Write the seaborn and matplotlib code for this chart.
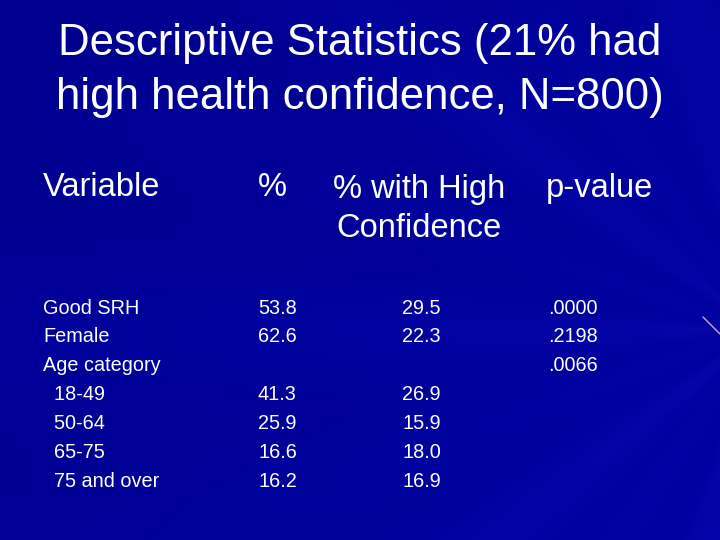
import numpy as np
import matplotlib
matplotlib.use('Agg')
import matplotlib.pyplot as plt
import seaborn as sns
import pandas as pd

# table contents
title_lines = ["Descriptive Statistics (21% had", "high health confidence, N=800)"]
headers = ["Variable", "%", "% with High\nConfidence", "p-value"]
variables = ["Good SRH", "Female", "Age category", "  18-49", "  50-64", "  65-75", "  75 and over"]
pct = ["53.8", "62.6", "", "41.3", "25.9", "16.6", "16.2"]
pct_high = ["29.5", "22.3", "", "26.9", "15.9", "18.0", "16.9"]
p_values = [".0000", ".2198", ".0066", "", "", "", ""]

df = pd.DataFrame({"Variable": variables, "%": pct,
                   "% with High Confidence": pct_high, "p-value": p_values})

sns.set_theme(style="white")
plt.rcParams['font.family'] = ['Liberation Sans', 'DejaVu Sans']

fig = plt.figure(figsize=(7.2, 5.4), dpi=100)
ax = fig.add_axes([0, 0, 1, 1])

# blue slide background with soft streaks radiating from the right
H, W = 540, 720
yy, xx = np.mgrid[0:H, 0:W]
ang = np.arctan2(yy - 330, W + 40 - xx)
streak = 0.5 + 0.5 * np.cos(ang * 14.0) * np.cos(ang * 5.0)
shade = 0.84 + 0.09 * (xx / W) + 0.06 * streak + 0.04 * (yy / H)
img = np.zeros((H, W, 3))
img[..., 0] = 0.02 * streak * (xx / W)
img[..., 1] = 0.02 * streak * (xx / W)
img[..., 2] = np.clip(0.65 * shade, 0, 1)
ax.imshow(img, extent=[0, W, H, 0], aspect='auto', zorder=0)
ax.plot([703, 720], [317, 334], color='#d9a0e0', lw=1, zorder=1)

ax.set_xlim(0, W)
ax.set_ylim(H, 0)
ax.axis('off')

for y, line in zip([44, 97], title_lines):
    ax.text(360, y, line, color='white', fontsize=31.5, ha='center', va='center')

# header row
ax.text(43, 188, headers[0], color='white', fontsize=23.5, ha='left', va='center')
ax.text(272, 188, headers[1], color='white', fontsize=23.5, ha='center', va='center')
ax.text(419, 209, headers[2], color='white', fontsize=23.5, ha='center', va='center',
        linespacing=1.35)
ax.text(599, 188, headers[3], color='white', fontsize=23.5, ha='center', va='center')

# body rows
row_y = 308
for i, row in df.iterrows():
    y = row_y + i * 28.9
    ax.text(43, y, row["Variable"], color='white', fontsize=14.3, ha='left', va='center')
    ax.text(258, y, row["%"], color='white', fontsize=14.3, ha='left', va='center')
    ax.text(402, y, row["% with High Confidence"], color='white', fontsize=14.3,
            ha='left', va='center')
    ax.text(548, y, row["p-value"], color='white', fontsize=14.3, ha='left', va='center')

fig.savefig('out.png', dpi=100)
